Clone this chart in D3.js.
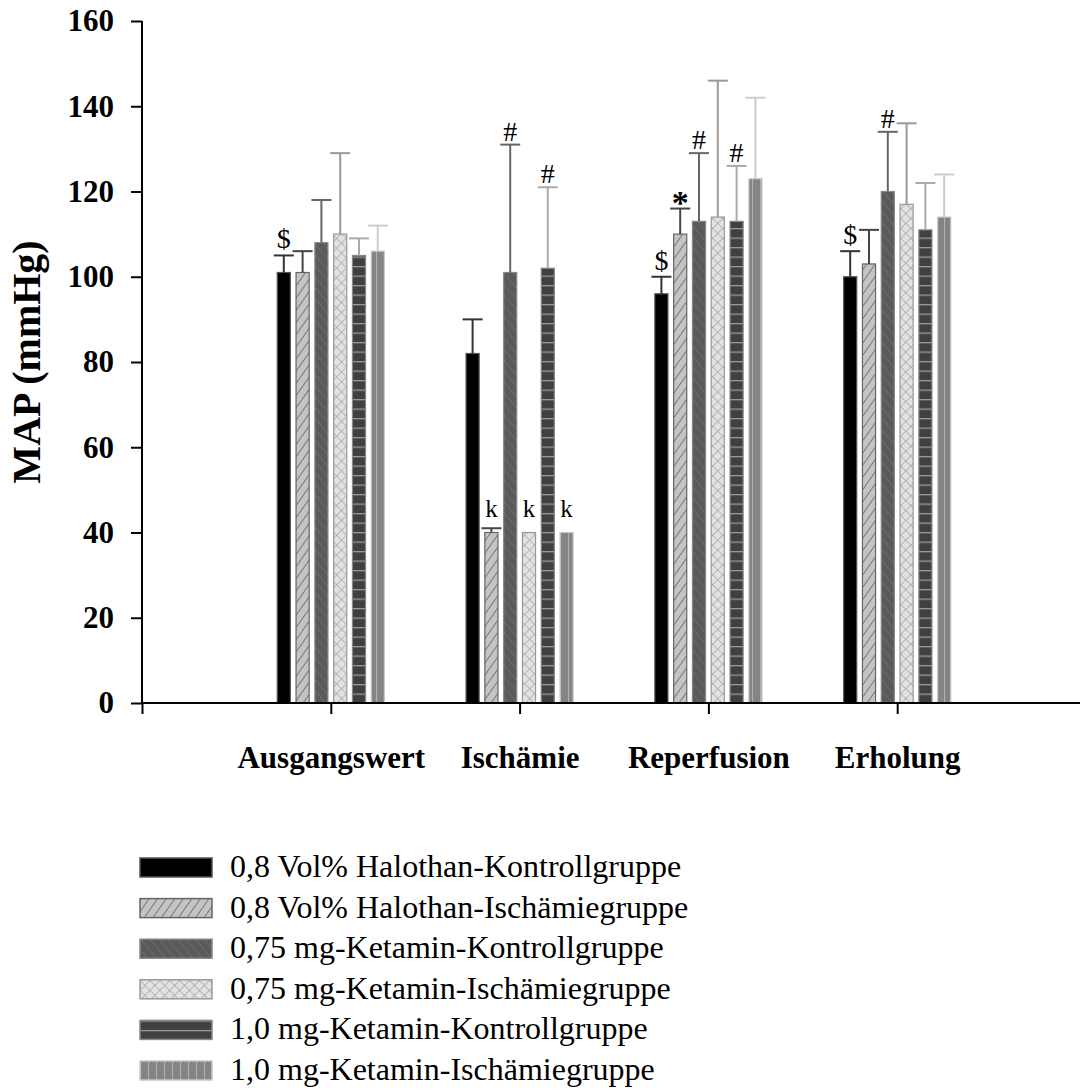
<!DOCTYPE html>
<html>
<head>
<meta charset="utf-8">
<script src="https://cdn.jsdelivr.net/npm/d3@7"></script>
<style>
  body { margin: 0; background: #fff; }
  svg { font-family: "Liberation Serif", "Times New Roman", serif; }
</style>
</head>
<body>
<svg id="chart" width="1080" height="1089"></svg>
<script>
// data
var categories = ["Ausgangswert", "Ischämie", "Reperfusion", "Erholung"];
var seriesNames = [
    "0,8 Vol% Halothan-Kontrollgruppe",
    "0,8 Vol% Halothan-Ischämiegruppe",
    "0,75 mg-Ketamin-Kontrollgruppe",
    "0,75 mg-Ketamin-Ischämiegruppe",
    "1,0 mg-Ketamin-Kontrollgruppe",
    "1,0 mg-Ketamin-Ischämiegruppe"
];
// mean per series, one value per category
var means = [
    [101, 82, 96, 100],
    [101, 40, 110, 103],
    [108, 101, 113, 120],
    [110, 40, 114, 117],
    [105, 102, 113, 111],
    [106, 40, 123, 114]
];
// upper end of the error bar
var upper = [
    [105, 90, 100, 106],
    [106, 41, 116, 111],
    [118, 131, 129, 134],
    [129, 40, 146, 136],
    [109, 121, 126, 122],
    [112, 40, 142, 124]
];
var yTicks = [0, 20, 40, 60, 80, 100, 120, 140, 160];
// [category, series, symbol]
var marks = [
    [0, 0, "$"], [2, 0, "$"], [3, 0, "$"],
    [1, 1, "k"], [1, 3, "k"], [1, 5, "k"],
    [1, 2, "#"], [1, 4, "#"], [2, 2, "#"], [2, 4, "#"], [3, 2, "#"],
    [2, 1, "*"]
];

var svg = d3.select("#chart");
var margin = {top: 21, left: 142, bottom: 386};
var height = 1089 - margin.top - margin.bottom;

var y = d3.scaleLinear().domain([0, 160]).range([margin.top + height, margin.top]);
var x = d3.scaleLinear().domain([0, 5]).range([margin.left, 1086]);
var inner = d3.scaleBand().domain(d3.range(6)).range([-56.4, 56.4])
    .paddingInner(0.25).paddingOuter(0.125);

//------------------------------------------------------------
// patterns
var defs = svg.append("defs");

function pattern(id, w, h, bg, rotate) {
    var p = defs.append("pattern").attr("id", id)
        .attr("patternUnits", "userSpaceOnUse")
        .attr("width", w).attr("height", h);
    if (rotate) p.attr("patternTransform", "rotate(" + rotate + ")");
    p.append("rect").attr("width", w).attr("height", h).attr("fill", bg);
    return p;
}

pattern("p1", 7, 7, "#c4c4c4", 35)
    .append("line").attr("x1", 0).attr("y1", 0).attr("x2", 0).attr("y2", 7)
    .attr("stroke", "#555").attr("stroke-width", 1.4);
pattern("p2", 7, 7, "#5a5a5a", -40)
    .append("line").attr("x1", 0).attr("y1", 0).attr("x2", 0).attr("y2", 7)
    .attr("stroke", "#767676").attr("stroke-width", 1.2);
var p3 = pattern("p3", 7, 7, "#e2e2e2", 45);
p3.append("line").attr("x1", 0).attr("y1", 0).attr("x2", 0).attr("y2", 7)
    .attr("stroke", "#9a9a9a").attr("stroke-width", 1.2);
p3.append("line").attr("x1", 0).attr("y1", 0).attr("x2", 7).attr("y2", 0)
    .attr("stroke", "#9a9a9a").attr("stroke-width", 1.2);
pattern("p4", 10, 9.5, "#404040")
    .append("line").attr("x1", 0).attr("y1", 0.5).attr("x2", 10).attr("y2", 0.5)
    .attr("stroke", "#9a9a9a").attr("stroke-width", 1.6);
pattern("p5", 8, 10, "#848484")
    .append("line").attr("x1", 0.5).attr("y1", 0).attr("x2", 0.5).attr("y2", 10)
    .attr("stroke", "#b0b0b0").attr("stroke-width", 1.2);

var fills = ["#000", "url(#p1)", "url(#p2)", "url(#p3)", "url(#p4)", "url(#p5)"];
var outlines = ["#555", "#666", "#888", "#999", "#888", "#c8c8c8"];
var errColors = ["#333", "#444", "#666", "#9a9a9a", "#aaa", "#ccc"];

//------------------------------------------------------------
// bars
var series = svg.append("g").selectAll("g").data(means).join("g");

series.selectAll("rect")
    .data(function(d, s) { return d.map(function(v, c) { return {s: s, c: c, v: v}; }); })
    .join("rect")
    .attr("x", function(d) { return x(d.c + 1) + inner(d.s) + 0.5; })
    .attr("width", inner.bandwidth() - 1)
    .attr("y", function(d) { return y(d.v); })
    .attr("height", function(d) { return y(0) - y(d.v); })
    .attr("fill", function(d) { return fills[d.s]; })
    .attr("stroke", function(d) { return outlines[d.s]; })
    .attr("stroke-width", 1.2);

// error bars
var errs = [];
upper.forEach(function(row, s) {
    row.forEach(function(u, c) { if (u > means[s][c]) errs.push({s: s, c: c, u: u, v: means[s][c]}); });
});
var eg = svg.append("g").selectAll("g").data(errs).join("g")
    .attr("stroke", function(d) { return errColors[d.s]; })
    .attr("stroke-width", 2);
function cx(c, s) { return x(c + 1) + inner(s) + inner.bandwidth() / 2; }
eg.append("line")
    .attr("x1", function(d) { return cx(d.c, d.s); })
    .attr("x2", function(d) { return cx(d.c, d.s); })
    .attr("y1", function(d) { return y(d.v); })
    .attr("y2", function(d) { return y(d.u); });
eg.append("line")
    .attr("x1", function(d) { return cx(d.c, d.s) - 10; })
    .attr("x2", function(d) { return cx(d.c, d.s) + 10; })
    .attr("y1", function(d) { return y(d.u); })
    .attr("y2", function(d) { return y(d.u); });

// significance marks
var markStyle = {
    "$": {size: 28, weight: "normal", dy: -7},
    "#": {size: 28, weight: "normal", dy: -4},
    "k": {size: 25, weight: "normal", dy: -11},
    "*": {size: 34, weight: "bold", dy: 5}
};
svg.append("g").selectAll("text").data(marks).join("text")
    .attr("x", function(d) { return cx(d[0], d[1]); })
    .attr("y", function(d) {
        var top = d[2] === "k" ? y(41) : y(upper[d[1]][d[0]]);
        return top + markStyle[d[2]].dy;
    })
    .attr("text-anchor", "middle")
    .attr("font-size", function(d) { return markStyle[d[2]].size; })
    .attr("font-weight", function(d) { return markStyle[d[2]].weight; })
    .text(function(d) { return d[2]; });

//------------------------------------------------------------
// axes
var yAxis = svg.append("g")
    .attr("transform", "translate(" + margin.left + ",0)")
    .call(d3.axisLeft(y).tickValues(yTicks).tickSize(11).tickPadding(17));
yAxis.select(".domain").attr("stroke-width", 2).attr("d", "M0," + y(160) + "V" + y(0));
yAxis.selectAll(".tick line").attr("stroke-width", 2);
yAxis.selectAll("text").attr("font-size", 31).attr("font-weight", "bold")
    .attr("font-family", "Liberation Serif").attr("fill", "#000");

var xAxis = svg.append("g")
    .attr("transform", "translate(0," + y(0) + ")")
    .call(d3.axisBottom(x).tickValues([0, 1, 2, 3, 4]).tickSize(11)
        .tickFormat(function(i) { return i > 0 ? categories[i - 1] : ""; })
        .tickPadding(32));
xAxis.select(".domain").attr("stroke-width", 2).attr("d", "M" + margin.left + ",0H1080");
xAxis.selectAll(".tick line").attr("stroke-width", 2);
xAxis.selectAll("text").attr("font-size", 31).attr("font-weight", "bold")
    .attr("font-family", "Liberation Serif").attr("fill", "#000");

svg.append("text")
    .attr("transform", "translate(40," + (y(80)) + ") rotate(-90)")
    .attr("text-anchor", "middle")
    .attr("font-size", 40).attr("font-weight", "bold")
    .text("MAP (mmHg)");

//------------------------------------------------------------
// legend
var legend = svg.append("g").selectAll("g").data(seriesNames).join("g")
    .attr("transform", function(d, i) { return "translate(140," + (858 + i * 40.6) + ")"; });
legend.append("rect")
    .attr("width", 72).attr("height", 19)
    .attr("fill", function(d, i) { return fills[i]; })
    .attr("stroke", function(d, i) { return outlines[i]; })
    .attr("stroke-width", 1.5);
legend.append("text")
    .attr("x", 90).attr("y", 19)
    .attr("font-size", 32)
    .text(function(d) { return d; });
</script>
</body>
</html>
